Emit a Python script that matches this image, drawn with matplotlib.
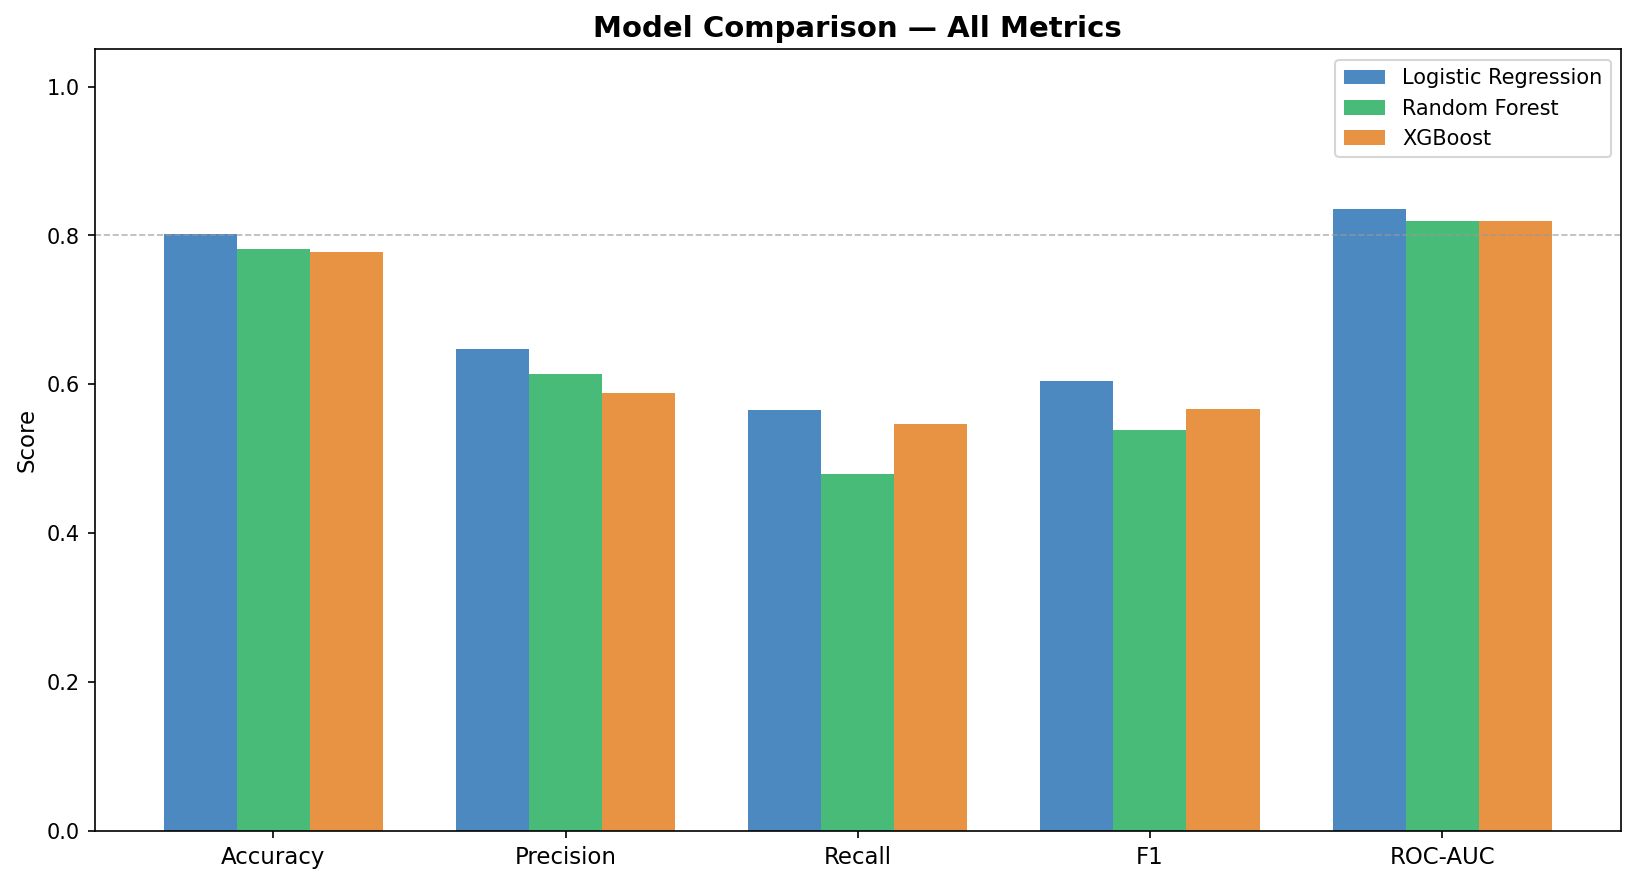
import matplotlib
matplotlib.use("Agg")
import matplotlib.pyplot as plt
import numpy as np

metrics = ["Accuracy", "Precision", "Recall", "F1", "ROC-AUC"]
models = ["Logistic Regression", "Random Forest", "XGBoost"]
logreg = [0.802, 0.648, 0.566, 0.605, 0.836]
rf = [0.782, 0.614, 0.480, 0.539, 0.820]
xgb = [0.778, 0.589, 0.547, 0.567, 0.820]
colors = ["#4C89C1", "#48BB78", "#E89244"]

fig = plt.figure(figsize=(10.9, 5.8937), dpi=150)
ax = fig.add_axes([0.0578, 0.0598, 0.9337, 0.8843])

x = np.arange(len(metrics))
w = 0.25
for i, (vals, name) in enumerate(zip([logreg, rf, xgb], models)):
    ax.bar(x + (i - 1) * w, vals, w, label=name, color=colors[i])

ax.axhline(0.8, color="#999999", linestyle="--", linewidth=0.8, alpha=0.7)
ax.set_xticks(x)
ax.set_xticklabels(metrics, fontsize=11)
ax.set_ylim(0, 1.05)
ax.set_ylabel("Score", fontsize=11)
ax.set_title("Model Comparison — All Metrics", fontsize=14, fontweight="bold")
ax.legend(loc="upper right", fontsize=10)

fig.savefig("out.png", dpi=150)
